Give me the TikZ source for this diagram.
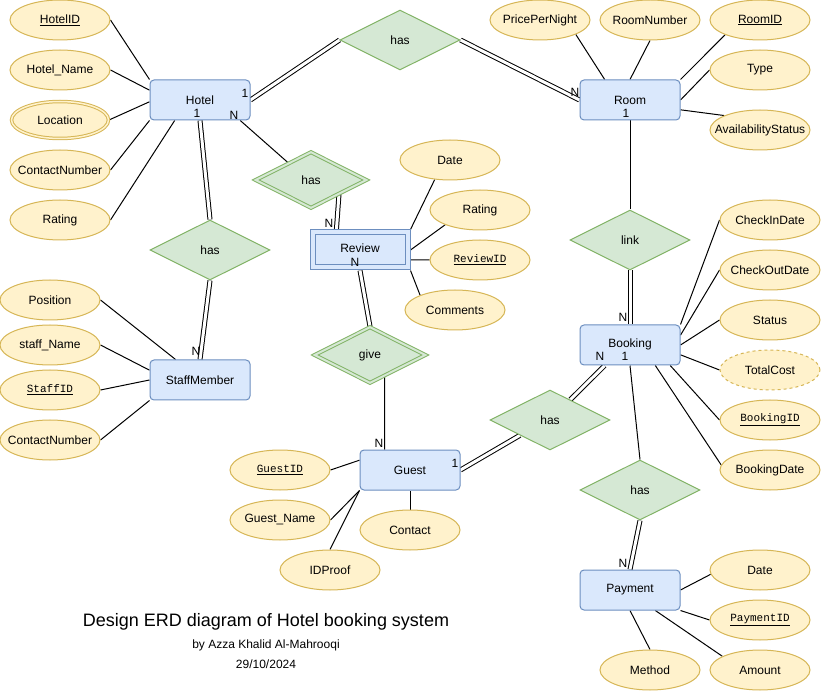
\documentclass[tikz,border=0pt]{standalone}
\usepackage{fontspec}
\setmainfont{Liberation Sans}
\newfontfamily\codefont{Liberation Mono}
\usetikzlibrary{shapes.geometric,backgrounds}
\definecolor{entfill}{HTML}{DAE8FC}
\definecolor{entdraw}{HTML}{6C8EBF}
\definecolor{attfill}{HTML}{FFF2CC}
\definecolor{attdraw}{HTML}{D6B656}
\definecolor{relfill}{HTML}{D5E8D4}
\definecolor{reldraw}{HTML}{82B366}
\begin{document}
\begin{tikzpicture}[x=1pt,y=-1pt,
 every node/.style={font=\fontsize{12}{14}\selectfont, inner sep=0pt},
 entity/.style={rectangle, rounded corners=4pt, draw=entdraw, fill=entfill, minimum width=100pt, minimum height=40pt, line width=1pt},
 weakent/.style={rectangle, draw=entdraw, fill=entfill, minimum width=100pt, minimum height=40pt, line width=1pt},
 attr/.style={ellipse, draw=attdraw, fill=attfill, minimum width=100pt, minimum height=40pt, line width=1pt, inner xsep=-25pt, inner ysep=0pt},
 multiattr/.style={attr, double=attfill, double distance=1.5pt, minimum width=97pt, minimum height=37pt},
 derivattr/.style={attr, dash pattern=on 3pt off 3pt},
 rel/.style={diamond, aspect=2, draw=reldraw, fill=relfill, minimum width=120pt, minimum height=60pt, line width=1pt},
 weakrel/.style={rel, double=relfill, double distance=2pt, minimum width=111pt, minimum height=56pt},
 conn/.style={line width=1pt},
 dbl/.style={line width=1pt, double, double distance=3pt},
 card/.style={font=\fontsize{12}{14}\selectfont},
 keycode/.style={font=\fontsize{11}{13}\codefont}
]
\useasboundingbox (0,0) rectangle (822,692);

% ---------- Hotel ----------
\node[entity] (hotel) at (200,100) {Hotel};
\node[attr] (hid) at (60,20) {\underline{HotelID}};
\node[attr] (hname) at (60,70) {Hotel\_Name};
\node[multiattr] (hloc) at (60,120) {Location};
\node[attr] (hcontact) at (60,170) {ContactNumber};
\node[attr] (hrating) at (60,220) {Rating};
\node[card] (hc1) at (245,93) {1};
\node[card] (hc2) at (197,113) {1};
\node[card] (hc3) at (234,115) {N};

% ---------- Room ----------
\node[entity] (room) at (630,100) {Room};
\node[attr] (rprice) at (540,20) {PricePerNight};
\node[attr] (rnum) at (650,20) {RoomNumber};
\node[attr] (rid) at (760,20) {\underline{RoomID}};
\node[attr] (rtype) at (760,70) {Type};
\node[attr] (ravail) at (760,130) {AvailabilityStatus};
\node[card] (rc1) at (575,92) {N};
\node[card] (rc2) at (626,113) {1};

% ---------- relationships ----------
\node[rel] (has1) at (400,40) {has};
\node[weakrel] (has2) at (311,180) {has};
\node[rel] (has5) at (210,250) {has};
\node[rel] (link) at (630,240) {link};
\node[weakrel] (give) at (370,355) {give};
\node[rel] (has3) at (550,420) {has};
\node[rel] (has4) at (640,490) {has};

% ---------- Review ----------
\node[weakent] (review) at (360,250) {};
\node[draw=entdraw, line width=1pt, minimum width=90pt, minimum height=30pt] (reviewin) at (360,250) {};
\node (reviewtxt) at (360,248) {Review};
\node[attr] (rvdate) at (450,160) {Date};
\node[attr] (rvrating) at (480,210) {Rating};
\node[attr, keycode] (rvid) at (480,260) {\underline{ReviewID}};
\node[attr] (rvcomm) at (455,310) {Comments};
\node[card] (rvc1) at (329,223) {N};
\node[card] (rvc2) at (355,262) {N};

% ---------- StaffMember ----------
\node[entity] (staff) at (200,380) {StaffMember};
\node[attr] (spos) at (50,300) {Position};
\node[attr] (sname) at (50,345) {staff\_Name};
\node[attr, keycode] (sid) at (50,390) {\underline{StaffID}};
\node[attr] (scontact) at (50,440) {ContactNumber};
\node[card] (sc1) at (196,351) {N};

% ---------- Guest ----------
\node[entity] (guest) at (410,470) {Guest};
\node[attr, keycode] (gid) at (280,470) {\underline{GuestID}};
\node[attr] (gname) at (280,520) {Guest\_Name};
\node[attr] (gproof) at (330,570) {IDProof};
\node[attr] (gcontact) at (410,530) {Contact};
\node[card] (gc1) at (379,443) {N};
\node[card] (gc2) at (455,463) {1};

% ---------- Booking ----------
\node[entity] (booking) at (630,345) {};
\node (bookingtxt) at (630,344) {Booking};
\node[attr] (bin) at (770,220) {CheckInDate};
\node[attr] (bout) at (770,270) {CheckOutDate};
\node[attr] (bstatus) at (770,320) {Status};
\node[derivattr] (bcost) at (770,370) {TotalCost};
\node[attr, keycode] (bid) at (770,420) {\underline{BookingID}};
\node[attr] (bdate) at (770,470) {BookingDate};
\node[card] (bc1) at (623,317) {N};
\node[card] (bc2) at (600,356) {N};
\node[card] (bc3) at (625,356) {1};

% ---------- Payment ----------
\node[entity] (payment) at (630,590) {Payment};
\node[attr] (pdate) at (760,570) {Date};
\node[attr, keycode] (pid) at (760,620) {\underline{PaymentID}};
\node[attr] (pmethod) at (650,670) {Method};
\node[attr] (pamount) at (760,670) {Amount};
\node[card] (pc1) at (623,563) {N};

% ---------- title ----------
\node[font=\fontsize{18}{21}\selectfont] (title) at (266,622) {Design ERD diagram of Hotel booking system};
\node[font=\fontsize{12}{14}\selectfont] (author) at (266,645) {by Azza Khalid Al-Mahrooqi};
\node[font=\fontsize{12}{14}\selectfont] (date) at (266,664) {29/10/2024};

% ---------- connectors ----------
\begin{pgfonlayer}{background}
\draw[conn] (hid.east) -- (hotel.north west);
\draw[conn] (hname.east) -- (hotel.169);
\draw[conn] (hloc.east) -- (hotel.182);
\draw[conn] (hcontact.east) -- (hotel.south west);
\draw[conn] (hrating.east) -- (hotel.219);

\draw[conn] (rprice.-22) -- (room.141);
\draw[conn] (rnum.south) -- (room.north);
\draw[conn] (rid.203) -- (room.north east);
\draw[conn] (rtype.west) -- (room.east);
\draw[conn] (ravail.158) -- (room.349);

\draw[conn] (rvdate.232) -- (review.north east);
\draw[conn] (rvrating.203) -- (review.east);
\draw[conn] (rvid.west) -- (review.349);
\draw[conn] (rvcomm.157) -- (review.south east);

\draw[conn] (spos.east) -- (staff.140);
\draw[conn] (sname.east) -- (staff.169);
\draw[conn] (sid.east) -- (staff.west);
\draw[conn] (scontact.east) -- (staff.south west);

\draw[conn] (gid.east) -- (guest.169);
\draw[conn] (gname.east) -- (guest.south west);
\draw[conn] (gproof.north) -- (guest.south west);
\draw[conn] (gcontact.north) -- (guest.south);

\draw[conn] (bin.west) -- (booking.north east);
\draw[conn] (bout.west) -- (booking.11);
\draw[conn] (bstatus.west) -- (booking.east);
\draw[conn] (bcost.west) -- (booking.349);
\draw[conn] (bid.west) -- (booking.333);
\draw[conn] (bdate.174) -- (booking.321);

\draw[conn] (pdate.185) -- (payment.east);
\draw[conn] (pid.west) -- (payment.south east);
\draw[conn] (pmethod.north) -- (payment.south);
\draw[conn] (pamount.160) -- (payment.321);

\draw[dbl] (hotel.east) -- (has1.west);
\draw[dbl] (has1.east) -- (room.west);
\draw[conn] (hotel.333) -- (has2.143);
\draw[dbl] (has2.333) -- (review.139);
\draw[dbl] (review.south) -- (give.north);
\draw[conn] (give.305) -- (guest.141);
\draw[dbl] (guest.east) -- (has3.207);
\draw[dbl] (has3.45) -- (booking.219);
\draw[conn] (room.south) -- (link.north);
\draw[dbl] (link.south) -- (booking.north);
\draw[conn] (booking.south) -- (has4.north);
\draw[dbl] (has4.south) -- (payment.north);
\draw[dbl] (hotel.south) -- (has5.north);
\draw[dbl] (has5.south) -- (staff.north);
\end{pgfonlayer}
\end{tikzpicture}
\end{document}
